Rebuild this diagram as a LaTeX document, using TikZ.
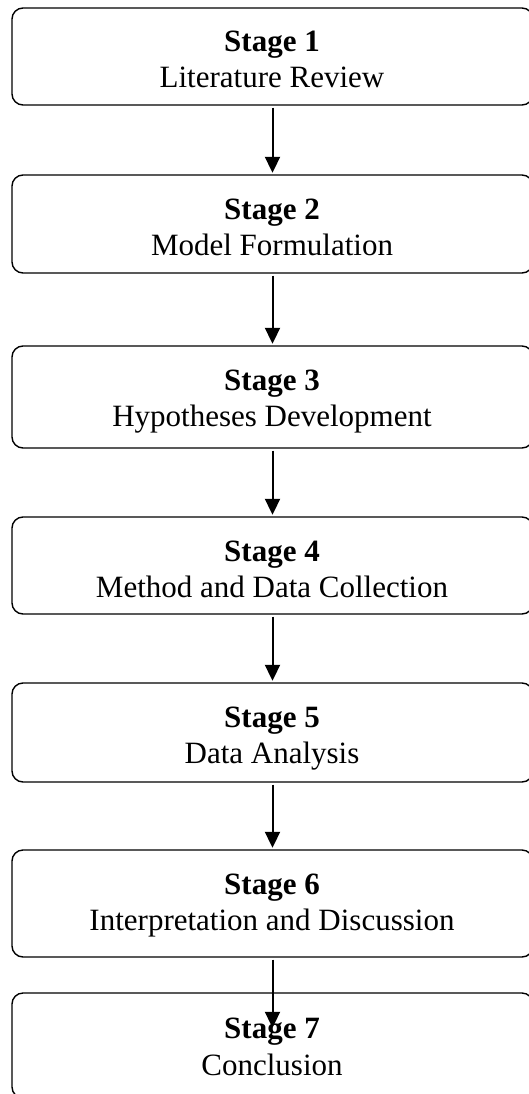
\documentclass[tikz,border=0pt]{standalone}
\usepackage{fontspec}
\setmainfont{Liberation Serif}
\usetikzlibrary{arrows.meta}
\begin{document}
\begin{tikzpicture}[x=1pt,y=-1pt,
  stagebox/.style={draw, line width=1.4pt, rounded corners=11pt, minimum width=521pt, inner sep=0pt},
  ttl/.style={font=\fontsize{31}{36}\selectfont\bfseries, anchor=base, inner sep=0pt},
  dsc/.style={font=\fontsize{31}{36}\selectfont, anchor=base, inner sep=0pt},
  arr/.style={line width=2pt, -{Triangle[width=15pt,length=16pt]}, shorten <=2pt, shorten >=1.5pt}]
\useasboundingbox (0,0) rectangle (529,1094);
\clip (0,0) rectangle (529,1094);
% boxes
\node[stagebox, minimum height=97pt]  (b1) at (272.5,56.5) {};
\node[stagebox, minimum height=98pt]  (b2) at (272.5,224) {};
\node[stagebox, minimum height=102pt] (b3) at (272.5,397) {};
\node[stagebox, minimum height=97pt]  (b4) at (272.5,565.5) {};
\node[stagebox, minimum height=99pt]  (b5) at (272.5,732.5) {};
\node[stagebox, minimum height=107pt] (b6) at (272.5,903.5) {};
\node[stagebox, minimum height=105pt] (b7) at (272.5,1045.5) {};
% texts
\node[ttl] (t1) at (272,52) {Stage 1};
\node[dsc] (d1) at (272,88) {Literature Review};
\node[ttl] (t2) at (272,219) {Stage 2};
\node[dsc] (d2) at (272,255) {Model Formulation};
\node[ttl] (t3) at (272,390) {Stage 3};
\node[dsc] (d3) at (272,426) {Hypotheses Development};
\node[ttl] (t4) at (272,561) {Stage 4};
\node[dsc] (d4) at (272,597) {Method and Data Collection};
\node[ttl] (t5) at (272,727) {Stage 5};
\node[dsc] (d5) at (272,763) {Data Analysis};
\node[ttl] (t6) at (272,894) {Stage 6};
\node[dsc] (d6) at (272,930) {Interpretation and Discussion};
\node[ttl] (t7) at (272,1038) {Stage 7};
\node[dsc] (d7) at (272,1075) {Conclusion};
% connectors
\coordinate (e7) at ([yshift=-37pt]b7.north);
\draw[arr] (b1.south) -- (b2.north);
\draw[arr] (b2.south) -- (b3.north);
\draw[arr] (b3.south) -- (b4.north);
\draw[arr] (b4.south) -- (b5.north);
\draw[arr] (b5.south) -- (b6.north);
\draw[arr] (b6.south) -- (e7);
\end{tikzpicture}
\end{document}
